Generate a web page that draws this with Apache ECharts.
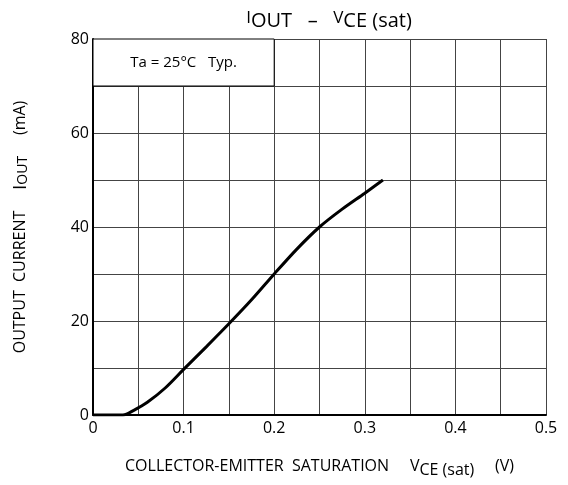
<!DOCTYPE html>
<html><head><meta charset="utf-8">
<script src="https://cdn.jsdelivr.net/npm/echarts@6/dist/echarts.min.js"></script>
<style>html,body{margin:0;padding:0;background:#fff}#c{width:568px;height:485px}</style>
</head><body><div id="c"></div>
<script>
var vce = [0, 0.033, 0.045, 0.06, 0.08, 0.1, 0.125, 0.15, 0.175, 0.2, 0.225, 0.25, 0.275, 0.3, 0.32];
var iout = [0, 0, 1.0, 2.7, 5.8, 9.7, 14.5, 19.4, 24.5, 30, 35.3, 40, 43.8, 47.2, 50];
var xTicks = [0, 0.1, 0.2, 0.3, 0.4, 0.5];
var yTicks = [0, 20, 40, 60, 80];
var note = 'Ta = 25°C   Typ.';

var F = '"Open Sans", "DejaVu Sans", sans-serif';
var data = vce.map(function (v, i) { return [v, iout[i]]; });
var chart = echarts.init(document.getElementById('c'));
chart.setOption({
  animation: false,
  title: {
    text: '{s|I}{n|OUT   –   }{s|V}{n|CE (sat)}',
    left: 324, top: 5, textAlign: 'center',
    textStyle: {
      rich: {
        s: { fontFamily: F, fontSize: 17, fontWeight: 'normal', color: '#000', verticalAlign: 'top', padding: [0, 0, 6, 0] },
        n: { fontFamily: F, fontSize: 20, fontWeight: 'normal', color: '#000' }
      }
    }
  },
  grid: { left: 93, right: 22, top: 39, bottom: 70, containLabel: false },
  xAxis: {
    type: 'value', min: 0, max: 0.5, interval: 0.05,
    axisLine: { show: true, onZero: false, lineStyle: { color: '#000', width: 2 } },
    axisTick: { show: false },
    splitLine: { show: true, lineStyle: { color: '#444', width: 1 } },
    axisLabel: {
      fontFamily: F, fontSize: 16, color: '#000', margin: 5,
      formatter: function (v) {
        for (var i = 0; i < xTicks.length; i++) if (Math.abs(v - xTicks[i]) < 1e-6) return String(xTicks[i]);
        return '';
      }
    },
    name: '{n|COLLECTOR-EMITTER  SATURATION     V}{s|CE (sat)}{n|     (V)}',
    nameLocation: 'middle', nameGap: 40,
    nameTextStyle: {
      rich: {
        n: { fontFamily: F, fontSize: 16, color: '#000' },
        s: { fontFamily: F, fontSize: 16, color: '#000', verticalAlign: 'bottom', padding: [7, 0, 0, 0] }
      }
    }
  },
  yAxis: {
    type: 'value', min: 0, max: 80, interval: 10,
    axisLine: { show: true, onZero: false, lineStyle: { color: '#000', width: 2 } },
    axisTick: { show: false },
    splitLine: { show: true, lineStyle: { color: '#444', width: 1 } },
    axisLabel: {
      fontFamily: F, fontSize: 16, color: '#000', margin: 4,
      formatter: function (v) { return yTicks.indexOf(v) >= 0 ? String(v) : ''; }
    },
    name: '{n|OUTPUT  CURRENT     }{b|I}{s|OUT}{n|     (mA)}',
    nameLocation: 'middle', nameGap: 63, nameRotate: 90,
    nameTextStyle: {
      rich: {
        n: { fontFamily: F, fontSize: 16, color: '#000' },
        b: { fontFamily: F, fontSize: 19, color: '#000' },
        s: { fontFamily: F, fontSize: 14, color: '#000', verticalAlign: 'bottom' }
      }
    }
  },
  series: [{
    type: 'line', data: data, smooth: 0.3, showSymbol: false,
    lineStyle: { color: '#000', width: 3 },
    markArea: {
      silent: true,
      itemStyle: { color: '#fff', borderColor: '#000', borderWidth: 1 },
      label: {
        show: true, position: 'inside', color: '#000',
        fontFamily: F, fontSize: 15
      },
      data: [[{ name: note, coord: [0, 70] }, { coord: [0.2, 80] }]]
    }
  }]
});
</script></body></html>
